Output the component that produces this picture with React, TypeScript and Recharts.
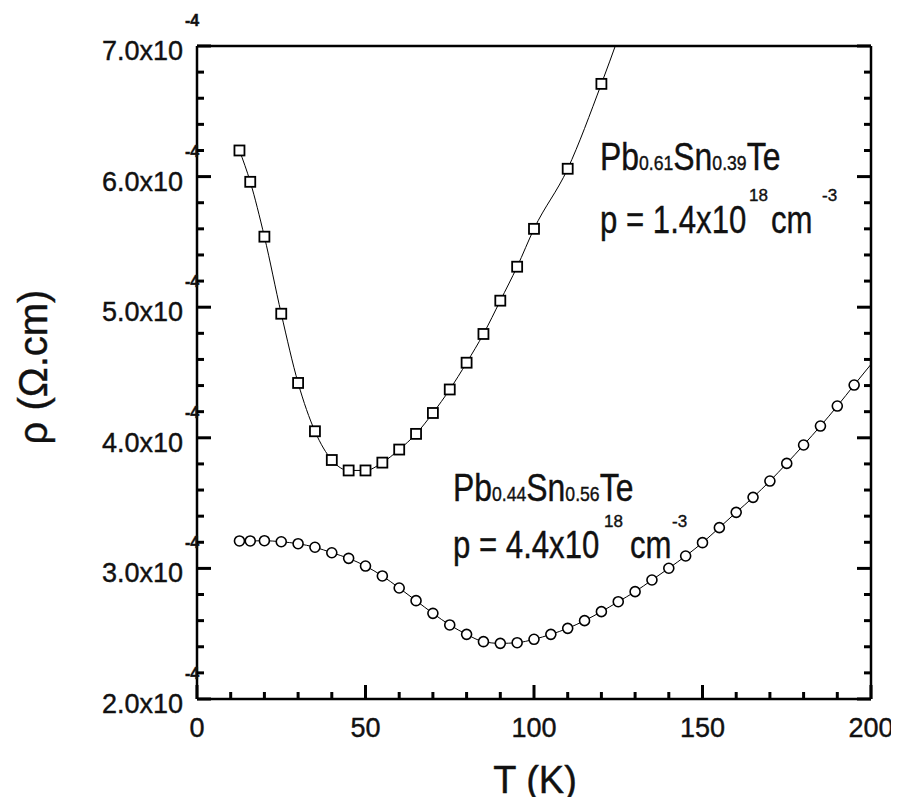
import React from 'react';
import { LineChart, Line, XAxis, YAxis } from 'recharts';

// T (K) and resistivity (units of 1e-4 ohm.cm)
const tempSq = [12.6, 15.8, 20, 25, 30, 35, 40, 45, 50, 55, 60, 65, 70, 75, 80, 85, 90, 95, 100, 110, 120, 130];
const rhoSq = [6.2, 5.96, 5.54, 4.95, 4.42, 4.05, 3.83, 3.75, 3.75, 3.81, 3.91, 4.03, 4.19, 4.37, 4.575, 4.795, 5.05, 5.31, 5.6, 6.06, 6.71, 7.43];

const tempCi = [
  12.6, 15.8, 20, 25, 30, 35, 40, 45, 50, 55, 60, 65, 70, 75, 80, 85, 90, 95, 100, 105, 110, 115, 120, 125,
  130, 135, 140, 145, 150, 155, 160, 165, 170, 175, 180, 185, 190, 195, 205,
];
const rhoCi = [
  3.21, 3.21, 3.212, 3.204, 3.189, 3.162, 3.12, 3.077, 3.018, 2.942, 2.85, 2.753, 2.656, 2.567, 2.495, 2.439,
  2.426, 2.431, 2.457, 2.495, 2.541, 2.6, 2.669, 2.745, 2.822, 2.911, 3.001, 3.095, 3.197, 3.312, 3.429, 3.544,
  3.669, 3.804, 3.945, 4.09, 4.243, 4.404, 4.72,
];

const xTicks = [0, 10, 20, 30, 40, 50, 60, 70, 80, 90, 100, 110, 120, 130, 140, 150, 160, 170, 180, 190, 200];
const xMajor = [0, 50, 100, 150, 200];
const yTicks = [
  2.0, 2.2, 2.4, 2.6, 2.8, 3.0, 3.2, 3.4, 3.6, 3.8, 4.0, 4.2, 4.4, 4.6, 4.8, 5.0, 5.2, 5.4, 5.6, 5.8, 6.0, 6.2,
  6.4, 6.6, 6.8, 7.0,
];
const yMajor = [2, 3, 4, 5, 6, 7];
const yTickLabels = ['2.0x10', '3.0x10', '4.0x10', '5.0x10', '6.0x10', '7.0x10'];
const yExponent = '-4';

const squareData = tempSq.map((T, i) => ({ T, rho: rhoSq[i] }));
const circleData = tempCi.map((T, i) => ({ T, rho: rhoCi[i] }));

const FONT = '"Liberation Sans", Arial, Helvetica, sans-serif';
const W = 891;
const H = 797;
const MAJOR = 14;
const MINOR = 7;
const TW = 3;
const INK = '#111';

const isMajorX = (v: number) => xMajor.includes(v);
const majorYIndex = (v: number) => yMajor.findIndex((m) => Math.abs(m - v) < 1e-6);

// inward tick marks drawn by the tick renderers, labels only on major ticks
const BottomTick = (props: any) => {
  const x = Number(props.x);
  const y = Number(props.y);
  const v = props.payload.value;
  const major = isMajorX(v);
  const len = major ? MAJOR : MINOR;
  return (
    <g>
      <path d={`M${x},${y} L${x},${y - len}`} stroke="#000" strokeWidth={TW} fill="none" />
      {major && (
        <text x={x} y={y + 38} textAnchor="middle" fontSize={27} fontFamily={FONT} fill={INK} stroke={INK} strokeWidth={0.4}>
          {v}
        </text>
      )}
    </g>
  );
};

const TopTick = (props: any) => {
  const x = Number(props.x);
  const y = Number(props.y);
  const len = isMajorX(props.payload.value) ? MAJOR : MINOR;
  return <path d={`M${x},${y} L${x},${y + len}`} stroke="#000" strokeWidth={TW} fill="none" />;
};

const LeftTick = (props: any) => {
  const x = Number(props.x);
  const y = Number(props.y);
  const idx = majorYIndex(props.payload.value);
  const major = idx >= 0;
  const len = major ? MAJOR : MINOR;
  return (
    <g>
      <path d={`M${x},${y} L${x + len},${y}`} stroke="#000" strokeWidth={TW} fill="none" />
      {major && (
        <g fontFamily={FONT} fill={INK} stroke={INK} strokeWidth={0.4}>
          <text x={x - 14} y={y + 14} textAnchor="end" fontSize={27}>
            {yTickLabels[idx]}
          </text>
          <text x={x - 12} y={y - 20} textAnchor="start" fontSize={16} fontWeight="bold">
            {yExponent}
          </text>
        </g>
      )}
    </g>
  );
};

const RightTick = (props: any) => {
  const x = Number(props.x);
  const y = Number(props.y);
  const len = majorYIndex(props.payload.value) >= 0 ? MAJOR : MINOR;
  return <path d={`M${x},${y} L${x - len},${y}`} stroke="#000" strokeWidth={TW} fill="none" />;
};

const renderSquare = (props: any) => {
  const { cx, cy, index } = props;
  if (cx == null || cy == null) return <g key={`sq-${index}`} />;
  return (
    <rect
      key={`sq-${index}`}
      x={cx - 5}
      y={cy - 5}
      width={10}
      height={10}
      fill="#fff"
      stroke="#000"
      strokeWidth={1.8}
    />
  );
};

const renderCircle = (props: any) => {
  const { cx, cy, index } = props;
  if (cx == null || cy == null) return <g key={`ci-${index}`} />;
  return <circle key={`ci-${index}`} cx={cx} cy={cy} r={5} fill="#fff" stroke="#000" strokeWidth={1.6} />;
};

const axisLine = { stroke: '#000', strokeWidth: 2.5 };

const Annotations = () => (
  <svg
    width={W}
    height={H}
    style={{ position: 'absolute', left: 0, top: 0, pointerEvents: 'none', overflow: 'visible' }}
    fontFamily={FONT}
    fill={INK}
    stroke={INK}
    strokeWidth={0.4}
  >
    {/* axis titles */}
    <text x={527} y={785} textAnchor="middle" fontSize={38}>
      T (K)
    </text>
    <text x={39} y={359} textAnchor="middle" fontSize={40} transform="rotate(-90 39 359)">
      ρ (Ω.cm)
    </text>

    {/* Pb0.61Sn0.39Te */}
    <g transform="translate(592 162) scale(0.84 1)">
      <text x={0} y={0} fontSize={38}>
        Pb<tspan fontSize={21}>0.61</tspan>Sn<tspan fontSize={21}>0.39</tspan>Te
      </text>
    </g>
    <g transform="translate(592 225) scale(0.82 1)">
      <text x={0} y={0} fontSize={38}>p = 1.4x10</text>
    </g>
    <text x={741} y={193} fontSize={17}>18</text>
    <g transform="translate(763 225) scale(0.82 1)">
      <text x={0} y={0} fontSize={38}>cm</text>
    </g>
    <text x={814} y={193} fontSize={17}>-3</text>

    {/* Pb0.44Sn0.56Te */}
    <g transform="translate(445 493) scale(0.84 1)">
      <text x={0} y={0} fontSize={38}>
        Pb<tspan fontSize={21}>0.44</tspan>Sn<tspan fontSize={21}>0.56</tspan>Te
      </text>
    </g>
    <g transform="translate(445 550) scale(0.82 1)">
      <text x={0} y={0} fontSize={38}>p = 4.4x10</text>
    </g>
    <text x={596} y={519} fontSize={17}>18</text>
    <g transform="translate(622 550) scale(0.82 1)">
      <text x={0} y={0} fontSize={38}>cm</text>
    </g>
    <text x={664} y={519} fontSize={17}>-3</text>
  </svg>
);

export default function App() {
  return (
    <div style={{ position: 'relative', width: W, height: H, marginBottom: -8, background: '#fff' }}>
      <LineChart width={W} height={H} margin={{ top: 37, right: 27, bottom: 105, left: 188 }}>
        <XAxis
          dataKey="T"
          type="number"
          domain={[0, 200]}
          allowDataOverflow
          ticks={xTicks}
          interval={0}
          height={1}
          tickSize={0}
          tickMargin={0}
          tickLine={false}
          axisLine={axisLine}
          tick={BottomTick}
        />
        <XAxis
          xAxisId="top"
          orientation="top"
          type="number"
          domain={[0, 200]}
          allowDataOverflow
          ticks={xTicks}
          interval={0}
          height={1}
          tickSize={0}
          tickMargin={0}
          tickLine={false}
          axisLine={axisLine}
          tick={TopTick}
        />
        <YAxis
          type="number"
          domain={[2, 7]}
          allowDataOverflow
          ticks={yTicks}
          interval={0}
          width={1}
          tickSize={0}
          tickMargin={0}
          tickLine={false}
          axisLine={axisLine}
          tick={LeftTick}
        />
        <YAxis
          yAxisId="right"
          orientation="right"
          type="number"
          domain={[2, 7]}
          allowDataOverflow
          ticks={yTicks}
          interval={0}
          width={1}
          tickSize={0}
          tickMargin={0}
          tickLine={false}
          axisLine={axisLine}
          tick={RightTick}
        />
        <Line
          data={squareData}
          dataKey="rho"
          type="monotone"
          stroke="#000"
          strokeWidth={1}
          dot={renderSquare}
          activeDot={false}
          isAnimationActive={false}
        />
        <Line
          data={circleData}
          dataKey="rho"
          type="monotone"
          stroke="#000"
          strokeWidth={1}
          dot={renderCircle}
          activeDot={false}
          isAnimationActive={false}
        />
      </LineChart>
      <Annotations />
    </div>
  );
}
